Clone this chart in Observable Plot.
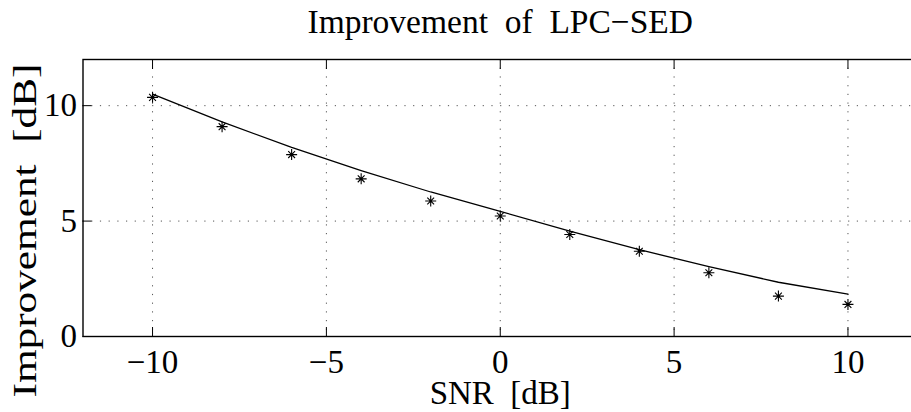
<!DOCTYPE html>
<html>
<head>
<meta charset="utf-8">
<script src="https://cdn.jsdelivr.net/npm/d3@7"></script>
<script src="https://cdn.jsdelivr.net/npm/@observablehq/plot@0.6"></script>
<style>
  html, body { margin: 0; padding: 0; background: #fff; }
  #chart svg, #chart svg text { font-family: "Liberation Serif", "Times New Roman", Times, serif !important; }
</style>
</head>
<body>
<div id="chart"></div>
<script>
const snr = [-10, -8, -6, -4, -2, 0, 2, 4, 6, 8, 10];
const measured = [10.36, 9.09, 7.88, 6.83, 5.87, 5.22, 4.42, 3.69, 2.76, 1.75, 1.39];
const fitted = [10.5, 9.3, 8.19, 7.19, 6.26, 5.42, 4.56, 3.76, 3.03, 2.35, 1.84];
const xTicks = [-10, -5, 0, 5, 10];
const yTicks = [0, 5, 10];
const titleText = "Improvement \u00a0of \u00a0LPC\u2212SED";
const xLabel = "SNR \u00a0[dB]";
const yLabel = "Improvement \u00a0[dB]";

const rows = snr.map((s, i) => ({snr: s, measured: measured[i], fitted: fitted[i]}));
const font = "Liberation Serif";

// MATLAB-style eight-armed asterisk
const starSymbol = {
  draw(context, size) {
    const r = Math.sqrt(size / Math.PI);
    const d = r * 0.62;
    context.moveTo(-r, 0); context.lineTo(r, 0);
    context.moveTo(0, -r); context.lineTo(0, r);
    context.moveTo(-d, -d); context.lineTo(d, d);
    context.moveTo(-d, d); context.lineTo(d, -d);
  }
};

const chart = Plot.plot({
  width: 911,
  height: 412,
  marginTop: 59,
  marginLeft: 82.5,
  marginBottom: 76,
  marginRight: -6,
  x: {domain: [-12, 12]},
  y: {domain: [0, 12]},
  style: {fontFamily: font, fontSize: "33px", background: "#fff", color: "#000"},
  marks: [
    Plot.gridX(xTicks.filter(d => d > -12 && d < 12), {stroke: "#555", strokeOpacity: 1, strokeWidth: 1, strokeDasharray: "1.2,7.5"}),
    Plot.gridY(yTicks.filter(d => d > 0), {stroke: "#555", strokeOpacity: 1, strokeWidth: 1, strokeDasharray: "1.2,7.5"}),
    Plot.line(rows, {x: "snr", y: "fitted", stroke: "#000", strokeWidth: 1.3}),
    Plot.dot(rows, {x: "snr", y: "measured", symbol: starSymbol, r: 5.5, stroke: "#000", fill: "none", strokeWidth: 1.1}),
    Plot.frame({stroke: "#000", strokeWidth: 1.4}),
    Plot.axisX(xTicks, {anchor: "bottom", tickSize: 0, tickPadding: 13.5, label: null, fontSize: 33, fontFamily: font}),
    Plot.axisX(xTicks, {anchor: "bottom", tickSize: -9, tickFormat: () => "", label: null}),
    Plot.axisX(xTicks, {anchor: "top", tickSize: -9, tickFormat: () => "", label: null}),
    Plot.axisY(yTicks, {anchor: "left", tickSize: 0, tickPadding: 6, label: null, fontSize: 33, fontFamily: font}),
    Plot.axisY(yTicks, {anchor: "left", tickSize: -9, tickFormat: () => "", label: null}),
    Plot.text([titleText], {frameAnchor: "top", text: d => d, lineAnchor: "bottom", dy: -27, fontSize: 33.5, fontFamily: font}),
    Plot.text([xLabel], {frameAnchor: "bottom", text: d => d, lineAnchor: "bottom", dy: 67.5, fontSize: 33, fontFamily: font}),
    Plot.text([yLabel], {frameAnchor: "left", text: d => d, rotate: -90, lineAnchor: "bottom", textAnchor: "middle", dx: -47, dy: 32.5, fontSize: 33, fontFamily: font})
  ]
});
// stretch the rotated y label along its length, as in the reference
d3.select(chart).selectAll("text").filter(function() { return this.textContent === yLabel; })
  .attr("textLength", 334).attr("lengthAdjust", "spacingAndGlyphs");
document.getElementById("chart").appendChild(chart);
</script>
</body>
</html>
